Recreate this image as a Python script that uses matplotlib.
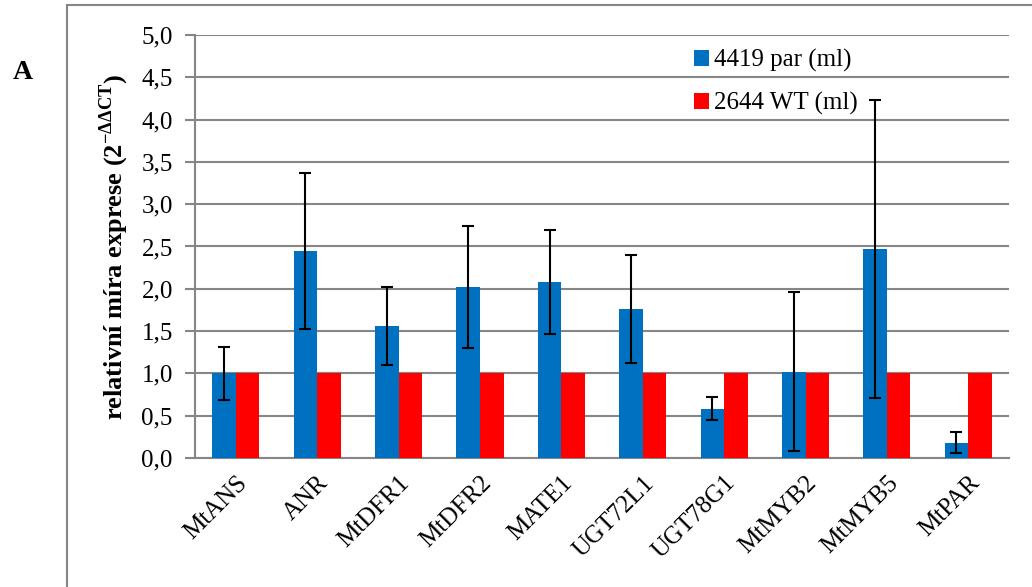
import matplotlib
matplotlib.use('Agg')
import matplotlib.pyplot as plt
import matplotlib.patches as patches
import numpy as np

plt.rcParams['font.family'] = ['Liberation Serif', 'DejaVu Serif']
plt.rcParams['mathtext.fontset'] = 'custom'
plt.rcParams['mathtext.rm'] = 'Liberation Serif'
plt.rcParams['mathtext.bf'] = 'Liberation Serif:bold'

genes = ['MtANS', 'ANR', 'MtDFR1', 'MtDFR2', 'MATE1', 'UGT72L1', 'UGT78G1', 'MtMYB2', 'MtMYB5', 'MtPAR']
par_4419 = [1.00, 2.45, 1.56, 2.02, 2.08, 1.76, 0.58, 1.02, 2.47, 0.18]
par_err = [0.31, 0.92, 0.46, 0.72, 0.61, 0.64, 0.135, 0.94, 1.76, 0.125]
wt_2644 = [1.0, 1.0, 1.0, 1.0, 1.0, 1.0, 1.0, 1.0, 1.0, 1.0]
yticks = [0.0, 0.5, 1.0, 1.5, 2.0, 2.5, 3.0, 3.5, 4.0, 4.5, 5.0]

blue = '#0070C0'
red = '#FF0000'
grid_col = '#868686'

fig = plt.figure(figsize=(10.32, 5.87), dpi=100)
ax = fig.add_axes([0.189, 0.2198, 0.7887, 0.7206])

x = np.arange(len(genes))
w = 0.29
ax.bar(x - w/2, par_4419, w, color=blue, label='4419 par (ml)', zorder=3)
ax.bar(x + w/2, wt_2644, w, color=red, label='2644 WT (ml)', zorder=3)
ax.errorbar(x - w/2, par_4419, yerr=par_err, fmt='none', ecolor='black',
            elinewidth=1.5, capsize=4.5, capthick=1.5, zorder=4)

ax.set_xlim(-0.5, len(genes) - 0.5)
ax.set_ylim(0, 5.0)
ax.set_yticks(yticks)
ax.set_yticklabels([f'{v:.1f}'.replace('.', ',') for v in yticks])
ax.yaxis.grid(True, color=grid_col, linewidth=1.5, zorder=0)
ax.set_axisbelow(True)

ax.set_xticks(x)
ax.set_xticklabels(genes, rotation=45, ha='right', rotation_mode='anchor')
ax.tick_params(axis='x', length=0, labelsize=18, pad=10)
ax.tick_params(axis='y', length=7, width=1.5, color=grid_col, labelsize=18, pad=9)

for s in ['top', 'right']:
    ax.spines[s].set_visible(False)
for s in ['left', 'bottom']:
    ax.spines[s].set_color(grid_col)
    ax.spines[s].set_linewidth(1.5)

ax.set_ylabel(r'relativní míra exprese (2$^{\mathbf{-ΔΔCT}}$)', fontsize=19, fontweight='bold')
ax.yaxis.set_label_coords(-0.079, 0.5)

ax.legend(loc='upper left', bbox_to_anchor=(0.598, 0.997), frameon=False, fontsize=18,
          borderpad=0, handlelength=0.6, handleheight=0.6, handletextpad=0.2, labelspacing=0.8)

# frame around the panel and the panel letter
fig.patches.append(patches.Rectangle((0.065, -0.05), 1.0, 1.0415, transform=fig.transFigure,
                                     fill=False, edgecolor=grid_col, linewidth=1.5))
fig.text(0.022, 0.877, 'A', fontsize=20, fontweight='bold', ha='center', va='center')

fig.savefig('out.png', dpi=100)
